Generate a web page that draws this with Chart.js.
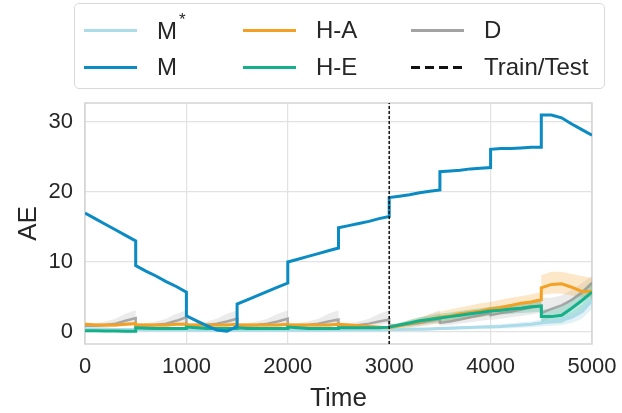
<!DOCTYPE html>
<html>
<head>
<meta charset="utf-8">
<script src="https://cdn.jsdelivr.net/npm/chart.js@4"></script>
<style>
body{margin:0;background:#fff;}
#wrap{position:relative;width:622px;height:413px;font-family:"Liberation Sans",Arial,sans-serif;color:#262626;}
#legend{position:absolute;left:74px;top:3px;width:531px;height:86px;border:1px solid #d9d9d9;border-radius:5px;box-sizing:border-box;}
.item{position:absolute;display:flex;align-items:center;font-size:24px;height:30px;white-space:nowrap;}
.swatch{width:53px;height:3px;margin-right:20px;}
sup{font-size:17px;position:relative;top:-5px;margin-left:2px;}
</style>
</head>
<body>
<div id="wrap">
<canvas id="chart" width="622" height="413"></canvas>
<div id="legend"></div>
</div>
<script>
// time steps (repeated at every 500 where the curves jump)
const T = [0,100,200,300,400,500, 500,600,700,800,900,1000, 1000,1100,1200,1300,1400,1500,
  1500,1600,1700,1800,1900,2000, 2000,2100,2200,2300,2400,2500, 2500,2600,2700,2800,2900,3000,
  3000,3100,3200,3300,3400,3500, 3500,3600,3700,3800,3900,4000, 4000,4100,4200,4300,4400,4500,
  4500,4600,4700,4800,4900,5000];

const mVals = [17,16.2,15.4,14.6,13.8,13, 9.5,8.7,8.0,7.2,6.5,5.7, 2.3,1.6,0.9,0.3,0.1,0.8,
  4.0,4.6,5.2,5.8,6.4,7.0, 10.0,10.4,10.8,11.2,11.6,12.0, 14.9,15.2,15.5,15.8,16.2,16.5,
  19.2,19.4,19.6,19.9,20.1,20.3, 22.9,23.0,23.1,23.3,23.4,23.5, 26.1,26.2,26.2,26.3,26.4,26.4,
  31.0,31.0,30.6,29.7,28.9,28.1];

const mStar = [0.45,0.4,0.4,0.35,0.35,0.35, 0.35,0.3,0.3,0.3,0.3,0.3, 0.3,0.25,0.25,0.25,0.25,0.25,
  0.25,0.25,0.25,0.25,0.25,0.25, 0.25,0.25,0.25,0.25,0.3,0.3, 0.3,0.3,0.3,0.3,0.3,0.35,
  0.35,0.35,0.4,0.4,0.45,0.5, 0.5,0.55,0.6,0.65,0.7,0.75, 0.75,0.8,0.9,1.0,1.1,1.3,
  1.3,1.5,1.7,2.1,2.9,4.5];
const mStarLo = [0.3,0.25,0.25,0.2,0.2,0.2, 0.2,0.15,0.15,0.15,0.15,0.15, 0.15,0.1,0.1,0.1,0.1,0.1,
  0.1,0.1,0.1,0.1,0.1,0.1, 0.1,0.1,0.1,0.1,0.15,0.15, 0.15,0.15,0.15,0.15,0.15,0.2,
  0.2,0.2,0.2,0.2,0.25,0.3, 0.3,0.3,0.35,0.4,0.4,0.45, 0.45,0.5,0.55,0.6,0.7,0.8,
  0.8,0.9,1.0,1.3,1.9,3.3];
const mStarHi = [0.6,0.55,0.55,0.5,0.5,0.5, 0.5,0.45,0.45,0.45,0.45,0.45, 0.45,0.4,0.4,0.4,0.4,0.4,
  0.4,0.4,0.4,0.4,0.4,0.4, 0.4,0.4,0.4,0.4,0.45,0.45, 0.45,0.45,0.45,0.45,0.45,0.5,
  0.5,0.5,0.6,0.6,0.65,0.7, 0.7,0.8,0.85,0.9,1.0,1.05, 1.05,1.1,1.25,1.4,1.5,1.8,
  1.8,2.1,2.4,2.9,3.9,5.7];

const haVals = [1.1,1.0,1.0,1.0,1.1,1.2, 1.0,1.0,1.0,1.0,1.1,1.1, 1.0,1.0,1.0,1.0,1.0,1.1,
  1.0,1.0,1.0,1.0,1.0,1.1, 1.0,1.0,1.0,1.0,1.0,1.1, 1.1,1.0,0.9,0.8,0.7,0.6,
  0.6,0.9,1.2,1.5,1.8,2.1, 2.1,2.3,2.6,2.8,3.0,3.3, 3.3,3.5,3.8,4.1,4.3,4.6,
  6.3,6.8,6.9,6.4,5.8,5.8];
const haLo = [0.85,0.75,0.75,0.75,0.85,0.95, 0.75,0.75,0.75,0.75,0.85,0.85, 0.75,0.75,0.75,0.75,0.75,0.85,
  0.75,0.75,0.75,0.75,0.75,0.85, 0.75,0.75,0.75,0.75,0.75,0.85, 0.85,0.75,0.65,0.55,0.45,0.35,
  0.3,0.5,0.7,0.9,1.1,1.3, 1.3,1.5,1.7,1.9,2.1,2.4, 2.4,2.6,2.8,3.0,3.3,3.5,
  5.3,5.5,5.5,5.2,5.0,5.0];
const haHi = [1.35,1.25,1.25,1.25,1.35,1.45, 1.25,1.25,1.25,1.25,1.35,1.35, 1.25,1.25,1.25,1.25,1.25,1.35,
  1.25,1.25,1.25,1.25,1.25,1.35, 1.25,1.25,1.25,1.25,1.25,1.35, 1.35,1.25,1.15,1.05,0.95,0.85,
  0.9,1.3,1.7,2.1,2.5,2.9, 2.9,3.2,3.5,3.8,4.1,4.3, 4.3,4.6,4.9,5.1,5.4,5.7,
  8.1,8.6,8.6,8.3,8.0,7.7];

const heVals = [0.2,0.2,0.15,0.15,0.1,0.1, 0.6,0.55,0.5,0.5,0.5,0.5, 0.7,0.6,0.5,0.5,0.5,0.5,
  0.6,0.5,0.5,0.5,0.5,0.5, 0.7,0.6,0.5,0.5,0.5,0.5, 0.6,0.6,0.6,0.6,0.6,0.7,
  0.7,1.0,1.3,1.6,1.8,2.0, 2.0,2.2,2.4,2.6,2.8,3.0, 3.0,3.1,3.3,3.4,3.6,3.7,
  2.2,2.2,2.4,3.4,4.5,5.7];
const heLo = [0.05,0.05,0.0,0.0,-0.05,-0.05, 0.45,0.4,0.35,0.35,0.35,0.35, 0.55,0.45,0.35,0.35,0.35,0.35,
  0.45,0.35,0.35,0.35,0.35,0.35, 0.55,0.45,0.35,0.35,0.35,0.35, 0.45,0.45,0.45,0.45,0.45,0.55,
  0.5,0.7,0.9,1.1,1.3,1.4, 1.4,1.6,1.8,2.0,2.2,2.4, 2.4,2.5,2.6,2.7,2.8,2.9,
  1.2,1.2,1.3,2.0,3.0,4.2];
const heHi = [0.35,0.35,0.3,0.3,0.25,0.25, 0.75,0.7,0.65,0.65,0.65,0.65, 0.85,0.75,0.65,0.65,0.65,0.65,
  0.75,0.65,0.65,0.65,0.65,0.65, 0.85,0.75,0.65,0.65,0.65,0.65, 0.75,0.75,0.75,0.75,0.75,0.85,
  0.9,1.3,1.7,2.1,2.3,2.6, 2.6,2.8,3.0,3.2,3.4,3.6, 3.6,3.8,4.0,4.2,4.4,4.5,
  3.2,3.3,3.6,4.8,6.0,7.2];

const dVals = [0.9,0.9,1.0,1.2,1.6,2.0, 0.8,0.9,1.0,1.2,1.6,2.1, 0.8,0.9,1.0,1.2,1.5,1.9,
  0.8,0.9,1.0,1.2,1.5,1.9, 0.8,0.9,1.0,1.2,1.5,1.8, 0.8,0.9,1.0,1.2,1.5,1.8,
  0.9,1.0,1.1,1.3,1.6,1.9, 1.3,1.5,1.8,2.1,2.4,2.7, 2.4,2.7,2.9,3.2,3.5,3.8,
  2.7,3.3,3.8,4.6,5.6,7.0];
const dLo = [0.5,0.55,0.6,0.75,1.0,1.3, 0.5,0.55,0.6,0.75,1.0,1.3, 0.5,0.55,0.6,0.75,1.0,1.3,
  0.5,0.55,0.6,0.75,1.0,1.3, 0.5,0.55,0.6,0.75,1.0,1.3, 0.5,0.55,0.6,0.75,1.0,1.3,
  0.5,0.55,0.6,0.75,1.0,1.3, 0.9,1.0,1.2,1.4,1.6,1.8, 1.7,1.9,2.1,2.3,2.5,2.7,
  1.4,2.0,2.6,3.3,4.2,5.4];
const dHi = [1.2,1.25,1.5,1.9,2.6,3.1, 1.2,1.25,1.5,1.9,2.6,3.1, 1.2,1.25,1.5,1.9,2.6,3.1,
  1.2,1.25,1.5,1.9,2.6,3.1, 1.2,1.25,1.5,1.9,2.6,3.1, 1.2,1.25,1.5,1.9,2.6,3.1,
  1.2,1.25,1.5,1.9,2.6,3.1, 2.0,2.1,2.4,2.7,3.1,3.6, 3.2,3.5,3.8,4.1,4.5,4.9,
  4.9,4.9,5.2,6.0,7.0,8.0];

const splitTime = 3000;
const yMin = -1.71, yMax = 32.71;
const xTicks = [0,1000,2000,3000,4000,5000];
const yTicks = [0,10,20,30];

const names = ['M*','M','H-A','H-E','D','Train/Test'];
const colors = ['#acdbe9','#0a8bc3','#f2a125','#14b08a','#a3a3a3','#111111'];

const pts = vals => T.map((t, i) => ({x: t, y: vals[i]}));

function line(label, vals, color, width) {
  return {label, data: pts(vals), borderColor: color, borderWidth: width, pointRadius: 0, fill: false, tension: 0};
}
function band(vals, color) {
  return {label: '', data: pts(vals), borderWidth: 0, pointRadius: 0, borderColor: 'transparent', backgroundColor: color, fill: false};
}
function bandHi(vals, color) {
  const ds = band(vals, color);
  ds.fill = '-1';
  return ds;
}

const datasets = [
  {label: 'Train/Test', data: [{x: splitTime, y: yMin}, {x: splitTime, y: yMax}], borderColor: colors[5],
   borderWidth: 1.5, borderDash: [3, 2], pointRadius: 0, fill: false},
  line('M', mVals, colors[1], 3),
  line('H-E', heVals, colors[3], 3),
  line('H-A', haVals, colors[2], 3),
  line('M*', mStar, colors[0], 3),
  line('D', dVals, 'rgba(150,150,150,0.8)', 2.5),
  band(heLo, 'rgba(20,176,138,0.25)'), bandHi(heHi, 'rgba(20,176,138,0.25)'),
  band(haLo, 'rgba(242,161,37,0.25)'), bandHi(haHi, 'rgba(242,161,37,0.25)'),
  band(mStarLo, 'rgba(172,219,233,0.35)'), bandHi(mStarHi, 'rgba(172,219,233,0.35)'),
  band(dLo, 'rgba(163,163,163,0.22)'), bandHi(dHi, 'rgba(163,163,163,0.22)')
];

// frame around the plot area
const frame = {
  id: 'frame',
  beforeDatasetsDraw(chart) {
    const {ctx, chartArea: a} = chart;
    ctx.save();
    ctx.strokeStyle = '#d4d4d4';
    ctx.lineWidth = 1.5;
    ctx.strokeRect(a.left, a.top, a.right - a.left, a.bottom - a.top);
    ctx.restore();
  }
};

const font = '"Liberation Sans", Arial, sans-serif';
const gridOpts = {color: '#e2e2e2', lineWidth: 1.2, drawTicks: false};

new Chart(document.getElementById('chart'), {
  type: 'line',
  data: {datasets},
  plugins: [frame],
  options: {
    responsive: false,
    animation: false,
    devicePixelRatio: 1,
    layout: {padding: {top: 103, right: 30, left: 0, bottom: 0}},
    plugins: {legend: {display: false}, tooltip: {enabled: false}},
    scales: {
      x: {
        type: 'linear', min: 0, max: 5000,
        afterBuildTicks: s => { s.ticks = xTicks.map(v => ({value: v})); },
        afterFit: s => { s.height = 69; s.paddingLeft = 0; s.paddingRight = 0; },
        ticks: {callback: v => String(v), color: '#262626', font: {family: font, size: 22}, padding: 10, maxRotation: 0},
        grid: gridOpts,
        border: {display: false},
        title: {display: true, text: 'Time', color: '#262626', font: {family: font, size: 26}, padding: {top: 0, bottom: -1}}
      },
      y: {
        type: 'linear', min: yMin, max: yMax,
        afterBuildTicks: s => { s.ticks = yTicks.map(v => ({value: v})); },
        afterFit: s => { s.width = 85; s.paddingTop = 0; s.paddingBottom = 0; },
        ticks: {color: '#262626', font: {family: font, size: 22}, padding: 12},
        grid: gridOpts,
        border: {display: false},
        title: {display: true, text: 'AE', color: '#262626', font: {family: font, size: 26}, padding: {top: 13, bottom: 0}}
      }
    }
  }
});

// legend, laid out column by column as in the figure
const legend = document.getElementById('legend');
const colX = [9, 168, 336];
const rowY = [11, 48];
names.forEach((name, i) => {
  const item = document.createElement('div');
  item.className = 'item';
  item.style.left = colX[Math.floor(i / 2)] + 'px';
  item.style.top = rowY[i % 2] + 'px';
  const sw = document.createElement('div');
  sw.className = 'swatch';
  if (name === 'Train/Test') {
    sw.style.background = 'repeating-linear-gradient(90deg,' + colors[i] + ' 0 9px, transparent 9px 14px)';
  } else {
    sw.style.background = colors[i];
  }
  item.appendChild(sw);
  const txt = document.createElement('span');
  if (name.endsWith('*')) {
    txt.textContent = name.slice(0, -1);
    const sup = document.createElement('sup');
    sup.textContent = '*';
    txt.appendChild(sup);
  } else {
    txt.textContent = name;
  }
  item.appendChild(txt);
  legend.appendChild(item);
});
</script>
</body>
</html>
